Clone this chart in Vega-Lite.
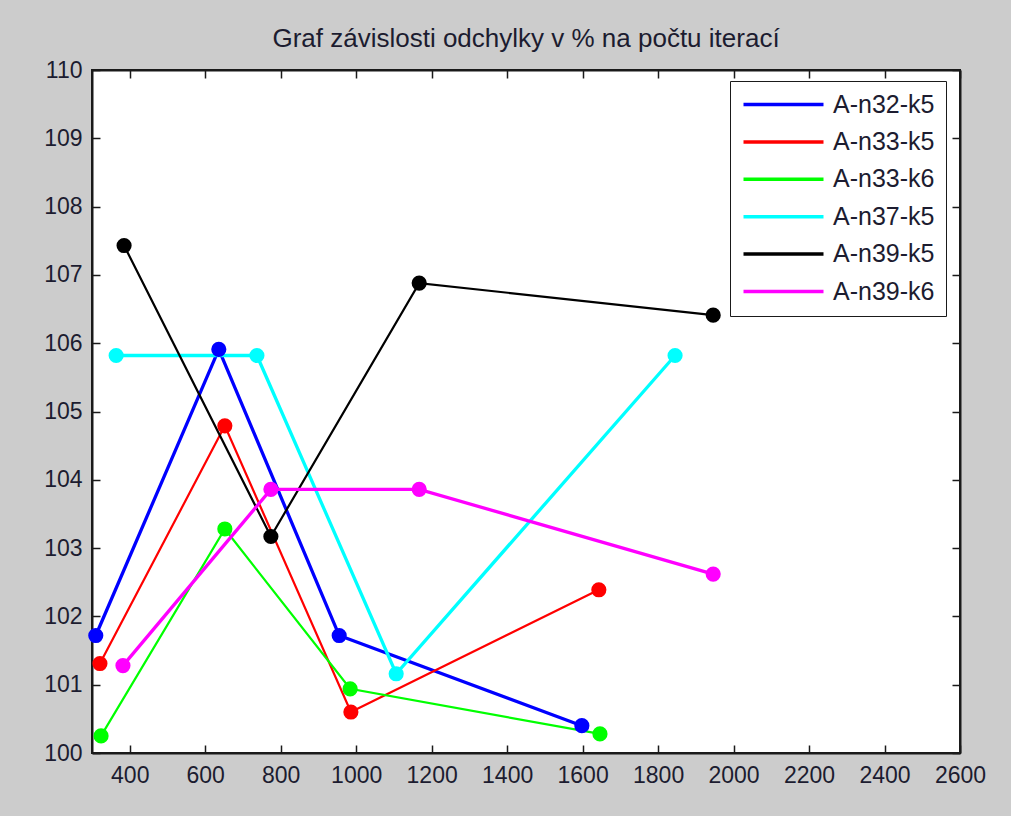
{
  "$schema": "https://vega.github.io/schema/vega-lite/v6.json",
  "width": 868,
  "height": 683,
  "autosize": {"type": "none"},
  "padding": {"left": 92, "top": 70, "right": 51, "bottom": 63},
  "background": "#cccccc",
  "config": {
    "view": {"fill": "white", "stroke": "#1a1a1a", "strokeWidth": 2},
    "axis": {
      "grid": false,
      "domainColor": "#1a1a1a",
      "domainWidth": 2,
      "tickColor": "#1a1a1a",
      "tickWidth": 1.5,
      "tickSize": -8,
      "labelColor": "#1c1c30",
      "labelFont": "Liberation Sans",
      "labelFontSize": 23,
      "title": null
    }
  },
  "title": {
    "text": "Graf závislosti odchylky v % na počtu iterací",
    "font": "Liberation Sans",
    "fontSize": 26,
    "fontWeight": "normal",
    "color": "#1c1c30",
    "anchor": "middle",
    "offset": 7
  },
  "data": {
    "values": [
      {"instance": "A-n32-k5", "iterace": 310, "odchylka": 101.72},
      {"instance": "A-n32-k5", "iterace": 636, "odchylka": 105.91},
      {"instance": "A-n32-k5", "iterace": 955, "odchylka": 101.72},
      {"instance": "A-n32-k5", "iterace": 1598, "odchylka": 100.4},
      {"instance": "A-n33-k5", "iterace": 321, "odchylka": 101.31},
      {"instance": "A-n33-k5", "iterace": 652, "odchylka": 104.79},
      {"instance": "A-n33-k5", "iterace": 986, "odchylka": 100.6},
      {"instance": "A-n33-k5", "iterace": 1643, "odchylka": 102.39},
      {"instance": "A-n33-k6", "iterace": 324, "odchylka": 100.25},
      {"instance": "A-n33-k6", "iterace": 652, "odchylka": 103.28},
      {"instance": "A-n33-k6", "iterace": 984, "odchylka": 100.94},
      {"instance": "A-n33-k6", "iterace": 1646, "odchylka": 100.28},
      {"instance": "A-n37-k5", "iterace": 364, "odchylka": 105.82},
      {"instance": "A-n37-k5", "iterace": 737, "odchylka": 105.82},
      {"instance": "A-n37-k5", "iterace": 1106, "odchylka": 101.16},
      {"instance": "A-n37-k5", "iterace": 1845, "odchylka": 105.82},
      {"instance": "A-n39-k5", "iterace": 385, "odchylka": 107.43},
      {"instance": "A-n39-k5", "iterace": 774, "odchylka": 103.17},
      {"instance": "A-n39-k5", "iterace": 1167, "odchylka": 106.88},
      {"instance": "A-n39-k5", "iterace": 1946, "odchylka": 106.41},
      {"instance": "A-n39-k6", "iterace": 382, "odchylka": 101.28},
      {"instance": "A-n39-k6", "iterace": 774, "odchylka": 103.86},
      {"instance": "A-n39-k6", "iterace": 1167, "odchylka": 103.86},
      {"instance": "A-n39-k6", "iterace": 1946, "odchylka": 102.62}
    ]
  },
  "layer": [
    {
      "mark": {"type": "line"},
      "encoding": {
        "x": {
          "field": "iterace",
          "type": "quantitative",
          "scale": {"domain": [300, 2600], "nice": false, "zero": false},
          "axis": {
            "orient": "bottom",
            "values": [400, 600, 800, 1000, 1200, 1400, 1600, 1800, 2000, 2200, 2400, 2600],
            "format": "d",
            "labelPadding": 19,
            "labelFlush": false,
            "labelOverlap": false
          }
        },
        "y": {
          "field": "odchylka",
          "type": "quantitative",
          "scale": {"domain": [100, 110], "nice": false, "zero": false},
          "axis": {
            "orient": "left",
            "values": [100, 101, 102, 103, 104, 105, 106, 107, 108, 109, 110],
            "labelPadding": 18,
            "labelFlush": false,
            "labelOverlap": false
          }
        },
        "strokeWidth": {
          "condition": {
            "test": "datum.instance === 'A-n33-k5' || datum.instance === 'A-n33-k6' || datum.instance === 'A-n39-k5'",
            "value": 2.2
          },
          "value": 3.3
        },
        "color": {
          "field": "instance",
          "type": "nominal",
          "scale": {
            "domain": ["A-n32-k5", "A-n33-k5", "A-n33-k6", "A-n37-k5", "A-n39-k5", "A-n39-k6"],
            "range": ["#0000ff", "#ff0000", "#00ff00", "#00ffff", "#000000", "#ff00ff"]
          },
          "legend": {
            "orient": "none",
            "legendX": 638,
            "legendY": 11,
            "title": null,
            "fillColor": "white",
            "strokeColor": "#1a1a1a",
            "padding": 11,
            "symbolType": "M-1,0H7",
            "symbolSize": 400,
            "symbolStrokeWidth": 3.5,
            "symbolFillColor": "transparent",
            "labelFont": "Liberation Sans",
            "labelFontSize": 25,
            "labelColor": "#1c1c30",
            "labelOffset": 67,
            "rowPadding": 11.4
          }
        }
      }
    },
    {
      "mark": {"type": "circle", "size": 230, "opacity": 1},
      "encoding": {
        "x": {
          "field": "iterace",
          "type": "quantitative",
          "axis": {
            "orient": "top",
            "values": [400, 600, 800, 1000, 1200, 1400, 1600, 1800, 2000, 2200, 2400, 2600],
            "labels": false
          }
        },
        "y": {
          "field": "odchylka",
          "type": "quantitative",
          "axis": {
            "orient": "right",
            "values": [100, 101, 102, 103, 104, 105, 106, 107, 108, 109, 110],
            "labels": false
          }
        },
        "color": {"field": "instance", "type": "nominal", "legend": null}
      }
    }
  ],
  "resolve": {
    "axis": {"x": "independent", "y": "independent"},
    "legend": {"color": "independent"}
  }
}
